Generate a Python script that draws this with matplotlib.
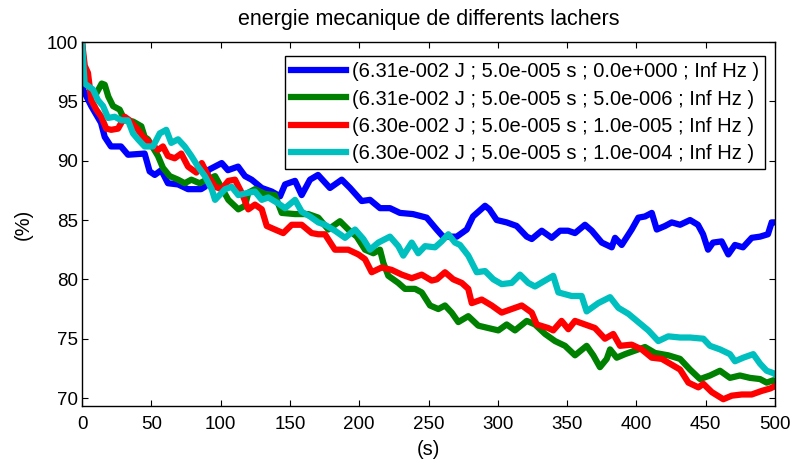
import matplotlib
matplotlib.use("Agg")
import matplotlib.pyplot as plt

plt.rcParams['font.family'] = ['Liberation Sans', 'DejaVu Sans']

# energy curves (time in s, energy in %)
blue_t = [0, 0.7, 6.7, 13.7, 16.4, 20.9, 28.1, 33.2, 45.2, 48.8, 52.5, 57.2, 62.0, 69.3, 76.5, 85.9, 88.7, 90.9,
          100.8, 105.3, 112.6, 117.6, 122.4, 129.7, 136.9, 142.9, 146.5, 153.7, 158.5, 164.5, 170.3, 178.9, 187.4,
          193.4, 201.8, 207.8, 215.0, 222.2, 229.4, 238.8, 248.7, 255.9, 260.5, 270.4, 277.6, 282.1, 290.8, 294.0,
          299.2, 306.4, 313.6, 320.9, 324.5, 331.7, 338.9, 344.9, 350.7, 355.7, 362.9, 367.8, 375.0, 382.2, 384.6,
          389.4, 396.6, 401.4, 406.2, 411.1, 414.7, 420.7, 425.5, 431.5, 438.7, 444.4, 448.1, 451.7, 455.3, 461.5,
          466.3, 471.1, 476.9, 483.2, 489.2, 494.9, 497.6, 500]
blue_e = [100, 96.0, 94.6, 93.2, 92.0, 91.2, 91.2, 90.5, 90.6, 89.1, 88.8, 89.2, 88.1, 88.0, 87.6, 87.6, 87.8, 89.2,
          89.8, 89.2, 89.5, 88.7, 88.4, 87.7, 87.4, 87.0, 88.0, 88.3, 87.1, 88.4, 88.8, 87.7, 88.4,
          87.7, 86.6, 86.7, 86.0, 86.0, 85.6, 85.5, 85.2, 84.2, 83.6, 83.6, 84.2, 85.3, 86.2, 85.9,
          85.0, 84.8, 84.5, 83.6, 83.4, 84.1, 83.5, 84.1, 84.1, 83.9, 84.6, 84.1, 83.1, 82.7, 83.5,
          82.9, 84.2, 85.2, 85.3, 85.6, 84.2, 84.5, 84.8, 84.6, 85.0, 84.6, 83.8, 82.5, 83.1, 83.2,
          82.1, 82.9, 82.7, 83.5, 83.6, 83.8, 84.8, 84.8]

green_t = [0, 1.5, 5.0, 10.0, 14.2, 16.4, 19.0, 22.4, 27.2, 30.8, 36.8, 42.8, 45.2, 47.6, 54.8, 58.4, 63.3, 69.3,
           74.1, 78.9, 84.9, 90.0, 96.0, 105.6, 109.2, 112.8, 117.6, 120.0, 124.8, 132.0, 139.2, 144.1, 153.7,
           163.3, 170.5, 177.7, 186.1, 192.1, 198.2, 204.2, 210.2, 215.0, 217.4, 221.0, 228.2, 233.0, 240.3, 245.1,
           251.1, 257.1, 261.9, 266.7, 271.5, 278.7, 285.9, 293.1, 300.4, 306.4, 312.4, 320.9, 326.8, 334.1, 341.3,
           348.5, 355.7, 364.1, 368.9, 373.7, 378.6, 381.0, 385.8, 391.8, 399.0, 406.2, 413.4, 423.0, 431.5, 438.7,
           445.9, 453.1, 460.3, 467.5, 474.7, 481.9, 489.2, 494.0, 498.8, 500]
green_e = [100, 97.5, 96.2, 95.6, 96.5, 96.4, 95.4, 94.6, 94.3, 93.4, 93.3, 92.9, 92.0, 91.8, 90.4, 89.4, 88.7, 88.4,
           88.1, 88.4, 88.1, 88.4, 88.7, 86.7, 86.3, 85.9, 86.2, 87.3, 87.6, 87.2, 87.1, 85.6, 85.5,
           85.5, 85.2, 84.2, 84.9, 84.2, 83.6, 82.5, 82.2, 82.5, 81.4, 80.3, 79.7, 79.2, 79.2, 78.9,
           77.8, 77.5, 77.8, 77.2, 76.4, 76.9, 76.1, 75.9, 75.7, 76.2, 75.7, 76.5, 76.2, 75.4, 74.8,
           74.4, 73.6, 74.4, 73.6, 72.6, 73.3, 74.1, 73.4, 73.7, 74.0, 74.3, 73.8, 73.6, 73.3, 72.4,
           71.6, 71.9, 72.3, 71.7, 71.9, 71.7, 71.6, 71.3, 71.5, 71.2]

red_t = [0, 2.0, 4.3, 6.7, 10.3, 13.9, 17.5, 21.1, 26.0, 30.8, 34.4, 40.4, 44.0, 49.0, 54.8, 58.4, 62.0, 66.9,
         71.6, 76.5, 82.5, 86.4, 91.1, 96.0, 100.8, 105.6, 110.4, 115.2, 120.0, 124.8, 129.7, 133.3, 139.2,
         145.2, 151.3, 158.5, 165.7, 170.5, 175.3, 182.5, 192.1, 199.4, 204.2, 209.0, 216.2, 223.4, 230.7, 237.9,
         245.1, 252.3, 256.0, 261.9, 267.9, 274.0, 278.7, 281.2, 288.4, 295.6, 302.8, 310.0, 317.3, 324.5, 328.1,
         336.4, 340.0, 346.0, 350.9, 355.7, 362.9, 370.1, 377.3, 383.3, 388.2, 396.6, 403.8, 411.1, 418.3, 424.2,
         431.5, 437.5, 444.7, 448.3, 454.4, 462.7, 468.8, 476.0, 483.2, 490.4, 496.4, 500]
red_e = [100, 98.0, 97.4, 95.1, 94.3, 93.7, 92.7, 92.6, 92.7, 93.7, 93.4, 92.6, 92.0, 91.5, 90.9, 91.2, 90.4, 90.2,
         90.6, 89.5, 89.0, 89.8, 88.7, 87.8, 87.6, 88.3, 88.4, 87.3, 85.9, 86.3, 85.9, 84.5, 84.2,
         83.9, 84.6, 84.6, 83.9, 83.8, 83.8, 82.5, 82.5, 82.1, 81.7, 80.6, 81.0, 80.8, 80.4, 80.1,
         80.4, 79.9, 80.0, 80.6, 80.0, 79.7, 79.2, 78.0, 78.3, 77.8, 77.2, 77.5, 77.8, 77.2, 76.2,
         75.9, 75.7, 76.5, 75.8, 76.5, 76.2, 75.9, 75.0, 75.4, 74.4, 74.5, 74.1, 73.4, 73.3, 72.9,
         72.4, 71.3, 70.9, 71.2, 70.5, 69.9, 70.2, 70.3, 70.3, 70.6, 70.8, 71.0]

cyan_t = [0, 1.9, 7.9, 11.5, 15.2, 18.8, 23.6, 28.4, 33.2, 36.8, 40.4, 45.2, 51.2, 56.1, 60.8, 64.4, 69.3, 74.1,
          78.9, 83.7, 88.7, 93.6, 96.0, 103.2, 108.0, 112.8, 120.0, 124.8, 129.7, 134.4, 141.6, 146.5, 153.7,
          158.5, 164.5, 170.5, 175.3, 182.5, 189.8, 197.0, 203.0, 207.8, 213.8, 222.2, 228.2, 231.8, 237.9, 242.6,
          247.5, 254.7, 259.5, 264.3, 269.1, 272.7, 278.7, 284.8, 290.8, 296.8, 302.8, 310.0, 316.0, 322.0, 326.8,
          334.1, 340.0, 343.7, 353.3, 360.5, 364.1, 372.5, 381.0, 387.0, 394.2, 401.4, 408.6, 415.8, 423.0, 431.5,
          438.7, 448.3, 453.1, 460.3, 467.5, 471.1, 477.1, 484.3, 489.2, 494.0, 498.8, 500]
cyan_e = [100, 96.5, 96.0, 95.1, 94.6, 93.6, 93.7, 93.4, 93.4, 92.3, 91.8, 91.2, 91.2, 92.3, 92.6, 91.5, 91.8, 91.2,
          90.4, 89.5, 88.7, 87.6, 86.7, 87.6, 87.8, 87.1, 87.3, 87.4, 86.7, 86.9, 86.4, 86.0, 86.7,
          85.7, 85.3, 84.8, 84.6, 84.1, 83.5, 84.2, 83.4, 82.5, 83.1, 83.6, 82.8, 82.0, 83.1, 82.2,
          82.8, 82.7, 83.2, 83.8, 83.1, 82.9, 82.0, 80.6, 80.7, 80.0, 79.6, 79.7, 80.4, 79.7, 79.4,
          79.9, 80.3, 78.9, 78.6, 78.6, 77.3, 78.0, 78.5, 77.6, 77.1, 76.4, 75.7, 74.8, 75.2, 75.1,
          75.1, 75.0, 74.4, 74.1, 73.7, 73.1, 73.4, 73.7, 72.9, 72.3, 72.1, 72.0]

labels = ["(6.31e-002 J ; 5.0e-005 s ; 0.0e+000 ; Inf Hz )",
          "(6.31e-002 J ; 5.0e-005 s ; 5.0e-006 ; Inf Hz )",
          "(6.30e-002 J ; 5.0e-005 s ; 1.0e-005 ; Inf Hz )",
          "(6.30e-002 J ; 5.0e-005 s ; 1.0e-004 ; Inf Hz )"]

fig = plt.figure(figsize=(7.92, 4.63), dpi=100)
ax = fig.add_axes([82 / 792, 1 - 406 / 463, 693 / 792, 364 / 463])

lw = 4.5
ax.plot(blue_t, blue_e, color=(0, 0, 1), lw=lw, label=labels[0])
ax.plot(green_t, green_e, color=(0, 0.5, 0), lw=lw, label=labels[1])
ax.plot(red_t, red_e, color=(1, 0, 0), lw=lw, label=labels[2])
ax.plot(cyan_t, cyan_e, color=(0, 0.75, 0.75), lw=lw, label=labels[3])

ax.set_xlim(0, 500)
ax.set_ylim(69.33, 100)
ax.set_xticks(range(0, 501, 50))
ax.set_yticks(range(70, 101, 5))
ax.tick_params(direction='in', top=True, right=True, length=4, labelsize=13.5)
ax.tick_params(axis='x', pad=7)
ax.tick_params(axis='y', pad=3)
for s in ax.spines.values():
    s.set_linewidth(1)

ax.set_title("energie mecanique de differents lachers", fontsize=15.5, pad=12)
ax.set_xlabel("(s)", fontsize=14.5, labelpad=5)
ax.set_ylabel("(%)", fontsize=14.5, labelpad=10)

leg = ax.legend(loc='upper right', bbox_to_anchor=(0.986, 0.9615), borderaxespad=0,
                fontsize=14.5, fancybox=False, framealpha=1, edgecolor='black',
                handlelength=2.7, handletextpad=0.3, labelspacing=0.4, borderpad=0.32)
leg.get_frame().set_linewidth(1)

fig.savefig("out.png", dpi=100)
